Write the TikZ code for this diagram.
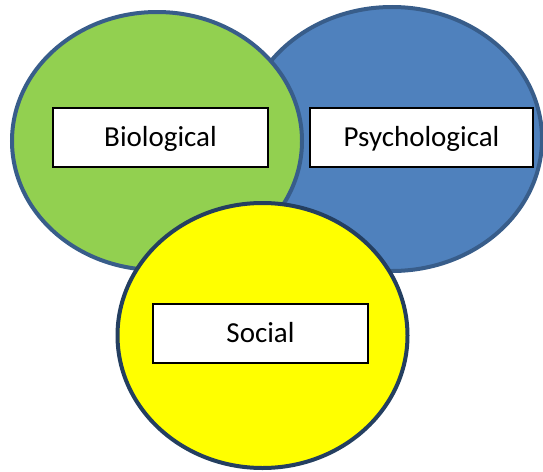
\documentclass[tikz,border=0pt]{standalone}
\usepackage{fontspec}
\setmainfont{Carlito}
\usepackage{tikz}

\definecolor{biogreen}{HTML}{92D050}
\definecolor{psyblue}{HTML}{4F81BD}
\definecolor{socyellow}{HTML}{FFFF00}
\definecolor{rimblue}{HTML}{385D8A}
\definecolor{rimnavy}{HTML}{243F60}

\tikzset{
	labelbox/.style={draw=black, fill=white, line width=1.5pt, inner sep=0pt,
		minimum width=215pt, minimum height=59pt,
		font=\fontsize{29}{34}\selectfont, text height=18.7pt, text depth=0pt},
}

\begin{document}
\begin{tikzpicture}[x=1pt,y=-1pt]
	\useasboundingbox (0,0) rectangle (543,471);
	\filldraw[fill=psyblue, draw=rimblue, line width=4pt] (392,139) ellipse (150 and 132);
	\filldraw[fill=biogreen, draw=rimblue, line width=4pt] (157,141) ellipse (145 and 129);
	\filldraw[fill=socyellow, draw=rimnavy, line width=4pt] (262.5,335.5) ellipse (145 and 132.5);
	\node[labelbox] (bio) at (160.5,137.5) {Biological};
	\node[labelbox, minimum width=223pt] (psy) at (421.5,137.5) {Psychological};
	\node[labelbox] (soc) at (260.5,333.5) {Social};
\end{tikzpicture}
\end{document}
